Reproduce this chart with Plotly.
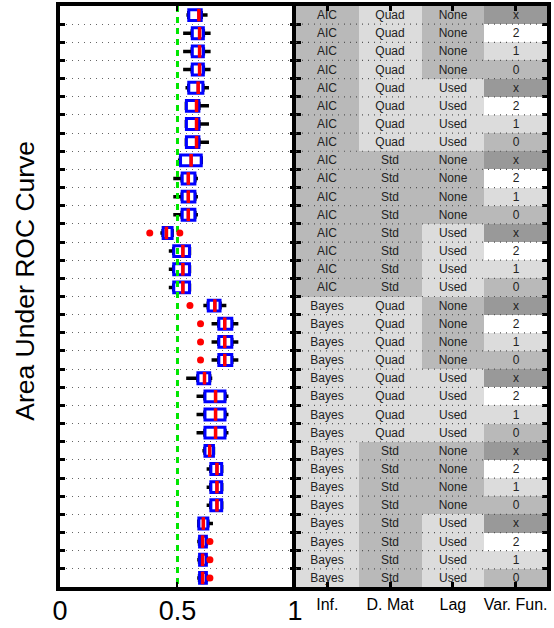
import plotly.graph_objects as go

# ---------------- data ----------------
rows = list(range(32))

q1 = [0.548, 0.563, 0.563, 0.563, 0.548, 0.538, 0.538, 0.538,
      0.513, 0.520, 0.520, 0.520, 0.439, 0.484, 0.484, 0.484,
      0.631, 0.676, 0.676, 0.676, 0.587, 0.617, 0.617, 0.617,
      0.617, 0.642, 0.642, 0.642, 0.591, 0.594, 0.594, 0.594]
median = [0.591, 0.594, 0.594, 0.594, 0.588, 0.581, 0.581, 0.581,
          0.558, 0.546, 0.546, 0.546, 0.453, 0.523, 0.523, 0.523,
          0.659, 0.701, 0.701, 0.701, 0.615, 0.662, 0.662, 0.662,
          0.637, 0.668, 0.668, 0.668, 0.610, 0.607, 0.607, 0.607]
q3 = [0.601, 0.610, 0.610, 0.610, 0.608, 0.591, 0.591, 0.591,
      0.601, 0.574, 0.574, 0.574, 0.477, 0.551, 0.551, 0.551,
      0.681, 0.731, 0.731, 0.731, 0.637, 0.702, 0.702, 0.702,
      0.653, 0.688, 0.688, 0.688, 0.629, 0.623, 0.623, 0.623]
lower = [0.538, 0.524, 0.524, 0.524, 0.534, 0.531, 0.531, 0.531,
         0.502, 0.482, 0.482, 0.482, 0.427, 0.463, 0.463, 0.463,
         0.610, 0.645, 0.645, 0.645, 0.537, 0.581, 0.581, 0.581,
         0.606, 0.624, 0.624, 0.624, 0.584, 0.584, 0.584, 0.584]
upper = [0.628, 0.641, 0.641, 0.641, 0.634, 0.634, 0.634, 0.634,
         0.601, 0.587, 0.587, 0.587, 0.477, 0.551, 0.551, 0.551,
         0.708, 0.759, 0.759, 0.759, 0.648, 0.717, 0.717, 0.717,
         0.655, 0.688, 0.688, 0.688, 0.651, 0.623, 0.623, 0.623]

outlier_rows = [12, 12, 16, 17, 18, 19, 29, 30, 31]
outlier_vals = [0.382, 0.510, 0.553, 0.598, 0.598, 0.598, 0.638, 0.638, 0.638]

chance_level = 0.5

x_tickvals = [0, 0.5, 1]
x_ticktext = ["0", "0.5", "1"]

col_labels = ["Inf.", "D. Mat", "Lag", "Var. Fun."]
inf_col = ["AIC"] * 16 + ["Bayes"] * 16
dmat_col = (["Quad"] * 8 + ["Std"] * 8) * 2
lag_col = (["None"] * 4 + ["Used"] * 4) * 4
varfun_col = ["x", "2", "1", "0"] * 8

# shade level per cell value (0 white .. 3 dark)
shade = [
    {"AIC": 2, "Bayes": 1},
    {"Quad": 1, "Std": 2},
    {"None": 2, "Used": 1},
    {"x": 3, "2": 0, "1": 1, "0": 2},
]

# ---------------- figure ----------------
FONT = "Liberation Sans, Arial, sans-serif"
fig = go.Figure()

# whiskers (black)
fig.add_trace(go.Box(
    y=rows, q1=q1, median=median, q3=q3, lowerfence=lower, upperfence=upper,
    orientation="h", width=0.25, whiskerwidth=0,
    line=dict(color="black", width=3.5), fillcolor="black",
    hoverinfo="skip", showlegend=False, xaxis="x", yaxis="y"))
# boxes (blue)
fig.add_trace(go.Box(
    y=rows, q1=q1, median=median, q3=q3, lowerfence=q1, upperfence=q3,
    orientation="h", width=0.6, whiskerwidth=0,
    line=dict(color="#0000ff", width=3), fillcolor="white",
    hoverinfo="skip", showlegend=False, xaxis="x", yaxis="y"))
# chance line
fig.add_trace(go.Scatter(
    x=[chance_level, chance_level], y=[-0.5, 31.5], mode="lines",
    line=dict(color="#00e600", width=3, dash="6px,5px"),
    hoverinfo="skip", showlegend=False, xaxis="x", yaxis="y"))
# medians (red)
fig.add_trace(go.Scatter(
    x=median, y=rows, mode="markers",
    marker=dict(symbol="line-ns", size=9, color="red",
                line=dict(color="red", width=3.5)),
    hoverinfo="skip", showlegend=False, xaxis="x", yaxis="y"))
# outliers
fig.add_trace(go.Scatter(
    x=outlier_vals, y=outlier_rows, mode="markers",
    marker=dict(symbol="circle", size=7, color="red", line=dict(width=0)),
    hoverinfo="skip", showlegend=False, xaxis="x", yaxis="y"))

# table as heatmap
cols = [inf_col, dmat_col, lag_col, varfun_col]
z = [[shade[c][cols[c][r]] for c in range(4)] for r in rows]
txt = [[cols[c][r] for c in range(4)] for r in rows]
fig.add_trace(go.Heatmap(
    z=z, x=[0, 1, 2, 3], y=rows, text=txt, texttemplate="%{text}",
    textfont=dict(family=FONT, size=12, color="#222222"),
    zmin=-0.5, zmax=3.5, showscale=False,
    colorscale=[[0, "#ffffff"], [0.25, "#ffffff"],
                [0.25, "#dcdcdc"], [0.5, "#dcdcdc"],
                [0.5, "#b9b9b9"], [0.75, "#b9b9b9"],
                [0.75, "#999999"], [1, "#999999"]],
    hoverinfo="skip", xaxis="x2", yaxis="y2"))

boundaries = [r + 0.5 for r in rows[:-1]]

# dotted separators over the table
for b in boundaries:
    fig.add_shape(type="line", xref="x2 domain", yref="y2",
                  x0=0, x1=1, y0=b, y1=b, layer="above",
                  line=dict(color="#555555", width=1.2, dash="1px,5px"))

fig.update_layout(
    width=554, height=628,
    margin=dict(l=60, r=7, t=6, b=41, autoexpand=False),
    paper_bgcolor="white", plot_bgcolor="white",
    boxmode="overlay",
    font=dict(family=FONT, color="black"),
    xaxis=dict(domain=[0, 0.4825], range=[0, 1], tickvals=x_tickvals,
               ticktext=x_ticktext, ticks="inside", ticklen=5, tickwidth=2,
               tickcolor="black", showline=True, linewidth=4,
               linecolor="black", mirror="ticks", showgrid=False,
               zeroline=False, tickfont=dict(size=27, family=FONT),
               ticklabelstandoff=-3, automargin=False, anchor="y"),
    yaxis=dict(range=[31.5, -0.5], tickvals=boundaries, showticklabels=False,
               ticks="inside", ticklen=5, tickwidth=3, tickcolor="black",
               showline=True, linewidth=4, linecolor="black", mirror="ticks",
               showgrid=True, gridcolor="#666666", gridwidth=1,
               griddash="1px,5px", zeroline=False, automargin=False,
               anchor="x"),
    xaxis2=dict(domain=[0.4846, 1], range=[-0.5, 3.5], tickvals=[0, 1, 2, 3],
                ticktext=col_labels, ticks="inside", ticklen=5, tickwidth=3,
                tickcolor="black", showline=True, linewidth=4,
                linecolor="black", mirror="ticks", showgrid=False,
                zeroline=False, tickfont=dict(size=16, family=FONT),
                automargin=False, anchor="y2"),
    yaxis2=dict(range=[31.5, -0.5], tickvals=boundaries, showticklabels=False,
                ticks="inside", ticklen=5, tickwidth=3, tickcolor="black",
                showline=True, linewidth=4, linecolor="black", mirror="ticks",
                showgrid=False, zeroline=False, automargin=False,
                anchor="x2"),
    annotations=[dict(text="Area Under ROC Curve", textangle=-90,
                      xref="paper", yref="paper", x=-0.072, y=0.527,
                      xanchor="center", yanchor="middle", showarrow=False,
                      font=dict(size=26.5, family=FONT, color="black"))],
)

fig.write_html("out.html", config={"displayModeBar": False},
               post_script="document.body.style.margin='0px';")
